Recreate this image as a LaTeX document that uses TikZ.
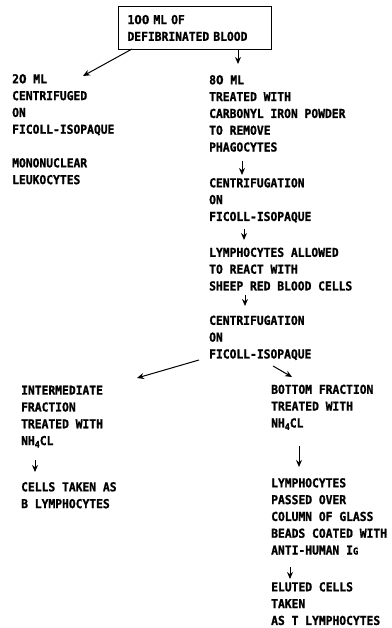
\documentclass[tikz,border=0pt]{standalone}
\usepackage{fontspec}
\newfontfamily\diagfont{DejaVu Sans Mono}[FakeStretch=0.92, BoldFeatures={FakeBold=1.2}]
\newfontfamily\zerofont{DejaVu Sans}[FakeStretch=0.88, BoldFeatures={FakeBold=1.2}]
\usetikzlibrary{arrows.meta,calc}
\tikzset{
  txt/.style={font=\diagfont\bfseries\fontsize{12.3pt}{16.8pt}\selectfont, align=left, inner sep=0pt, anchor=north west},
  arr/.style={line width=1pt, -{Stealth[length=7pt,width=6pt]}},
  boxst/.style={draw, line width=1pt, anchor=north west, minimum width=153pt, minimum height=43pt,
    inner xsep=9pt, inner ysep=0pt, text width=135pt, align=left,
    font=\diagfont\bfseries\fontsize{12.3pt}{16.8pt}\selectfont}
}
\newcommand{\subfour}{\raisebox{-2.5pt}{\fontsize{9pt}{9pt}\selectfont 4}}
\newcommand{\zr}{{\zerofont 0}}
\begin{document}
\begin{tikzpicture}[x=1pt,y=-1pt]
\useasboundingbox (0,0) rectangle (391,628);
\node[boxst] (box) at (118,6) {1\zr\zr{} ML OF\\DEFIBRINATED BLOOD};
\node[txt] (n20) at (12,74) {2\zr{} ML\\CENTRIFUGED\\ON\\FICOLL-ISOPAQUE\\[16.8pt]MONONUCLEAR\\LEUKOCYTES};
\node[txt] (n80) at (209,75) {8\zr{} ML\\TREATED WITH\\CARBONYL IRON POWDER\\TO REMOVE\\PHAGOCYTES};
\node[txt] (cen1) at (209,178) {CENTRIFUGATION\\ON\\FICOLL-ISOPAQUE};
\node[txt] (lym) at (209,247.5) {LYMPHOCYTES ALLOWED\\TO REACT WITH\\SHEEP RED BLOOD CELLS};
\node[txt] (cen2) at (209,315.5) {CENTRIFUGATION\\ON\\FICOLL-ISOPAQUE};
\node[txt] (inter) at (21,385.5) {INTERMEDIATE\\FRACTION\\TREATED WITH\\NH\subfour CL};
\node[txt] (cellsB) at (21,482) {CELLS TAKEN AS\\B LYMPHOCYTES};
\node[txt] (bottom) at (271,384.5) {BOTTOM FRACTION\\TREATED WITH\\NH\subfour CL};
\node[txt] (lymT) at (271,478) {LYMPHOCYTES\\PASSED OVER\\COLUMN OF GLASS\\BEADS COATED WITH\\ANTI-HUMAN I{\fontsize{9.5pt}{9.5pt}\selectfont G}};
\node[txt] (eluted) at (271,582) {ELUTED CELLS\\TAKEN\\AS T LYMPHOCYTES};

\draw[arr] ($(box.south west)+(14,-1)$) -- ($(n20.north west)+(71,2)$);
\draw[arr] ($(box.south west)+(120,0)$) -- ($(n80.north west)+(29,-11)$);
\draw[arr] ($(n80.north west)+(33,86)$) -- ($(cen1.north west)+(33,-3)$);
\draw[arr] ($(cen1.north west)+(35,51)$) -- ($(lym.north west)+(35,-7.5)$);
\draw[arr] ($(lym.north west)+(36,47.5)$) -- ($(cen2.north west)+(36,-9.5)$);
\draw[arr] ($(cen2.north west)+(-10,44.5)$) -- ($(inter.north west)+(116,-7.5)$);
\draw[arr] ($(cen2.north west)+(64,50.5)$) -- ($(bottom.north west)+(21,-7.5)$);
\draw[arr] ($(inter.north west)+(14,74.5)$) -- ($(cellsB.north west)+(14,-10)$);
\draw[arr] ($(bottom.north west)+(28,61.5)$) -- ($(lymT.north west)+(28,-11)$);
\draw[arr] ($(lymT.north west)+(19,89)$) -- ($(eluted.north west)+(19,-3)$);
\end{tikzpicture}
\end{document}
